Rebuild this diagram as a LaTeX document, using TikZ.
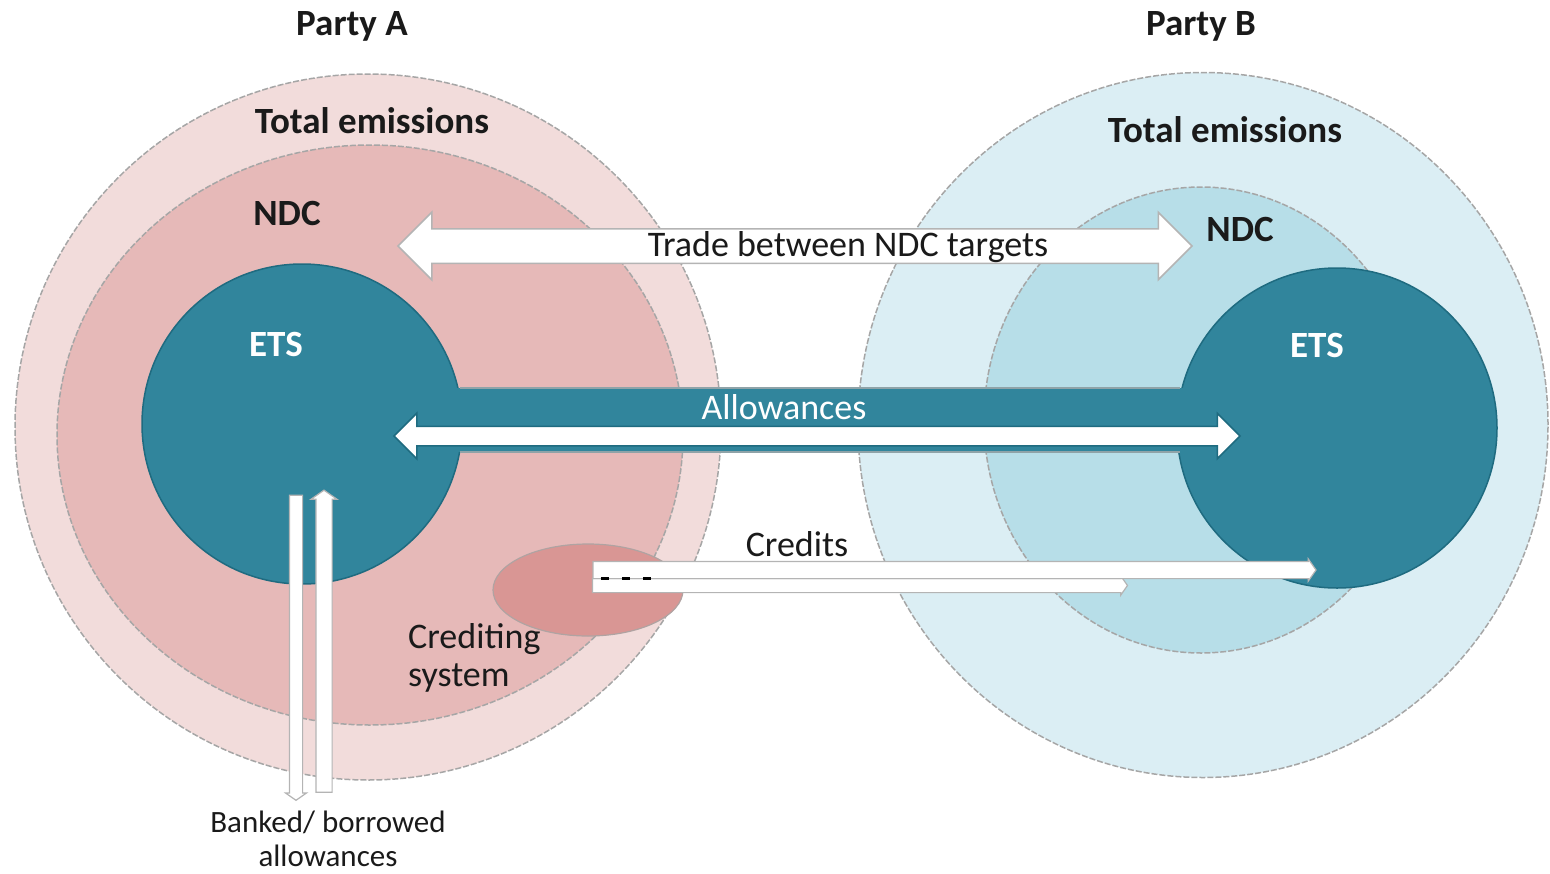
\documentclass[tikz,border=0pt]{standalone}
\usepackage{fontspec}
\setmainfont{Carlito}
\usetikzlibrary{shapes.geometric,shapes.arrows}
\definecolor{outA}{HTML}{F2DCDB}
\definecolor{ndcA}{HTML}{E6B9B8}
\definecolor{credA}{HTML}{D99694}
\definecolor{etsC}{HTML}{31859C}
\definecolor{etsLine}{HTML}{1F6B80}
\definecolor{outB}{HTML}{DBEEF4}
\definecolor{ndcB}{HTML}{B7DEE8}
\definecolor{rimGray}{HTML}{A6A6A6}
\definecolor{arrGray}{HTML}{B4B4B4}
\definecolor{barEdge}{HTML}{8FA3A8}
\definecolor{txt}{HTML}{1A1A1A}
\begin{document}
\begin{tikzpicture}[x=1pt,y=-1pt,
  rim/.style={draw=rimGray, line width=1.5pt, dash pattern=on 6pt off 2pt},
  etsrim/.style={draw=etsLine, line width=1.5pt},
  blob/.style={ellipse, inner sep=0pt},
  boldtext/.style={font=\fontsize{37}{44}\selectfont\bfseries, text=txt, anchor=base, inner sep=0pt},
  normtext/.style={font=\fontsize{36}{42}\selectfont, text=txt, anchor=base, inner sep=0pt},
  smalltext/.style={font=\fontsize{31}{37}\selectfont, text=txt, anchor=base, inner sep=0pt},
  etstext/.style={font=\fontsize{37}{44}\selectfont\bfseries, text=white, anchor=base, inner sep=0pt},
  shaft/.style={text height=#1, text depth=#1},
  blockarrow/.style={double arrow, inner sep=0pt, fill=white, line width=1.5pt, double arrow tip angle=90},
  thinarrow/.style={single arrow, inner sep=0pt, fill=white, draw=arrGray, line width=1.2pt, single arrow tip angle=110},
]
\useasboundingbox (0,0) rectangle (1550,873);

% Party A circles
\node[blob, fill=outA, rim, minimum width=706pt, minimum height=706pt] (totA) at (368,427) {};
\node[blob, fill=ndcA, rim, minimum width=626pt, minimum height=580pt] (ndcA) at (370,435) {};
% Party B circles
\node[blob, fill=outB, rim, minimum width=690pt, minimum height=705pt] (totB) at (1203,425) {};
\node[blob, fill=ndcB, rim, minimum width=434pt, minimum height=466pt] (ndcB) at (1201,420) {};
% ETS circles
\node[circle, inner sep=0pt, fill=etsC, etsrim, minimum size=320pt] (etsA) at (302,424) {};
\node[circle, inner sep=0pt, fill=etsC, etsrim, minimum size=320pt] (etsB) at (1337,428) {};
% linking bar
\fill[etsC] (etsA.center |- 0,388) rectangle (etsB.center |- 0,452);
\draw[barEdge, line width=1.5pt] (etsA.center |- 0,388) ++(158,0) -- ++(720,0);
\draw[barEdge, line width=1.5pt] (etsA.center |- 0,452) ++(158,0) -- ++(720,0);
% crediting system
\node[blob, fill=credA, draw=rimGray!80!credA, line width=1.2pt, minimum width=190pt, minimum height=92pt] (credSys) at (588,590) {};

% trade between NDC targets
\node[blockarrow, draw=arrGray, shaft=16.5pt, minimum height=794pt, double arrow head extend=16.5pt] (tradeArr) at (795,246) {};
% allowances
\node[blockarrow, draw=etsLine, shaft=9pt, minimum height=846pt, double arrow head extend=13pt] (allowArr) at (817,436) {};
% credits
\node[thinarrow, shaft=6.5pt, minimum height=535pt, single arrow head extend=2.5pt] (credLow) at (857.5,585.5) {};
\node[thinarrow, shaft=8pt, minimum height=723pt, single arrow head extend=2.5pt] (credUp) at (951.5,570) {};
\coordinate (dashS) at (601,578);
\coordinate (dashE) at (660,578);
\draw[black, line width=3pt, dash pattern=on 8pt off 13pt] (dashS) -- (dashE);
% banked / borrowed
\node[thinarrow, shaft=6pt, rotate=-90, minimum height=305pt, single arrow head extend=4pt] (bankDown) at (296,645.5) {};
\node[thinarrow, shaft=7.5pt, rotate=90, minimum height=302pt, single arrow head extend=5pt] (bankUp) at (324,644) {};

% texts
\node[boldtext] (partyA) at (352,35) {Party A};
\node[boldtext] (partyB) at (1201,35) {Party B};
\node[boldtext] (teA) at (372,133) {Total emissions};
\node[boldtext] (teB) at (1225,142) {Total emissions};
\node[boldtext] (ndcAt) at (287,225) {NDC};
\node[boldtext] (ndcBt) at (1240,241) {NDC};
\node[etstext] (etsAt) at (276,356) {ETS};
\node[etstext] (etsBt) at (1317,357) {ETS};
\node[normtext] (tradeT) at (848,256) {Trade between NDC targets};
\node[normtext, text=white] (allowT) at (784,419) {Allowances};
\node[normtext] (credT) at (797,556) {Credits};
\node[normtext, anchor=base west] (crsys1) at (408,648) {Crediting};
\node[normtext, anchor=base west] (crsys2) at (408,686) {system};
\node[smalltext] (bank1) at (328,832) {Banked/ borrowed};
\node[smalltext] (bank2) at (328,866) {allowances};
\end{tikzpicture}
\end{document}
